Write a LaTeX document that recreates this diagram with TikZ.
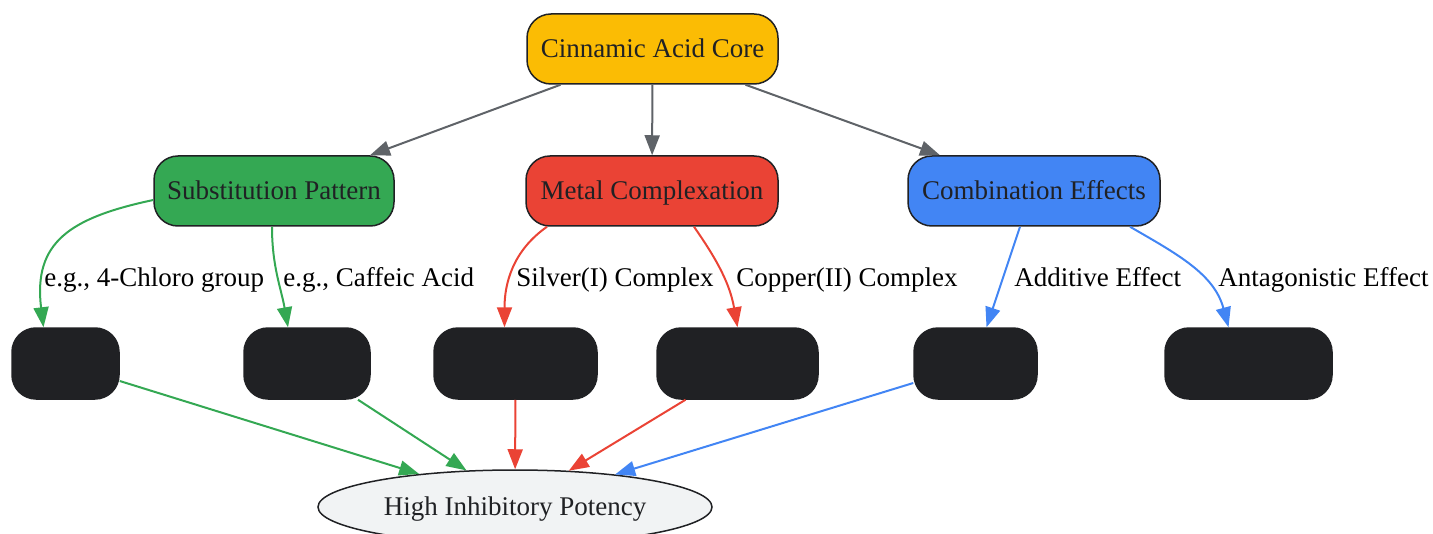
\documentclass[tikz,border=0pt]{standalone}
\usepackage{fontspec}
\setmainfont{Liberation Serif}
\usetikzlibrary{arrows.meta,shapes.geometric}
\definecolor{ink}{HTML}{202124}
\definecolor{coreyellow}{HTML}{FBBC04}
\definecolor{subgreen}{HTML}{34A853}
\definecolor{metalred}{HTML}{EA4335}
\definecolor{combblue}{HTML}{4285F4}
\definecolor{linkgray}{HTML}{5F6368}
\definecolor{potencygray}{HTML}{F1F3F4}

\begin{document}
\begin{tikzpicture}[%
  x=0.5pt,y=-0.5pt,
  every node/.style={font=\fontsize{13.5}{16}\selectfont,
    text height=10.5pt,text depth=2.4pt},
  box/.style={draw=ink,line width=0.75pt,rounded corners=12pt,
    minimum height=35pt,inner sep=0pt,text=ink},
  leaf/.style={box,fill=ink,minimum height=35.5pt},
  link/.style={line width=1pt,-{Triangle[length=10pt,width=7.5pt]}},
  elabel/.style={anchor=west,inner sep=0pt,text=black}]
\useasboundingbox (0,0) rectangle (1433,534);

\node[box,fill=coreyellow,minimum width=125.5pt] (core) at (652.5,49) {Cinnamic Acid Core};
\node[box,fill=subgreen,minimum width=120pt] (sub) at (274,191) {Substitution Pattern};
\node[box,fill=metalred,minimum width=126pt] (metal) at (652,191) {Metal Complexation};
\node[box,fill=combblue,minimum width=126pt] (comb) at (1034,191) {Combination Effects};

\node[leaf,minimum width=53.5pt] (chloro) at (65.5,363.5) {};
\node[leaf,minimum width=63pt] (caffeic) at (307,363.5) {};
\node[leaf,minimum width=81.5pt] (silver) at (515.5,363.5) {};
\node[leaf,minimum width=80.5pt] (copper) at (737.5,363.5) {};
\node[leaf,minimum width=61.5pt] (additive) at (975.5,363.5) {};
\node[leaf,minimum width=83.5pt] (antag) at (1248.5,363.5) {};

\node[ellipse,draw=ink,fill=potencygray,line width=0.75pt,inner sep=0pt,
  minimum width=197pt,minimum height=37pt,text=ink] (potency) at (515,507) {High Inhibitory Potency};

\node[elabel] (lchloro) at (44,278.5) {e.g., 4-Chloro group};
\node[elabel] (lcaffeic) at (283,278.5) {e.g., Caffeic Acid};
\node[elabel] (lsilver) at (516,278.5) {Silver(I) Complex};
\node[elabel] (lcopper) at (736,278.5) {Copper(II) Complex};
\node[elabel] (ladditive) at (1014,278.5) {Additive Effect};
\node[elabel] (lantag) at (1218,278.5) {Antagonistic Effect};

\draw[link,linkgray] ([xshift=-46pt]core.south) -- ([xshift=48pt]sub.north);
\draw[link,linkgray] (core) -- (metal);
\draw[link,linkgray] ([xshift=46.5pt]core.south) -- ([xshift=-47pt]comb.north);

\draw[link,subgreen] ([yshift=-4.5pt]sub.west) to[out=192,in=97,looseness=1.3] ([xshift=-11pt]chloro.north);
\draw[link,subgreen] ([xshift=-1pt]sub.south) to[out=-90,in=100] ([xshift=-9.5pt]caffeic.north);
\draw[link,metalred] ([xshift=-52.5pt]metal.south) to[out=215,in=90] ([xshift=-5.5pt]silver.north);
\draw[link,metalred] ([xshift=21pt]metal.south) to[out=-55,in=100] (copper.north);
\draw[link,combblue] ([xshift=-7pt]comb.south) -- ([xshift=5.5pt]additive.north);
\draw[link,combblue] ([xshift=48pt]comb.south) to[out=-30,in=105] ([xshift=-10pt]antag.north);

\draw[link,subgreen] ([yshift=-8.75pt]chloro.east) -- (potency.161.7);
\draw[link,subgreen] ([xshift=25.5pt]caffeic.south) -- (potency.143.1);
\draw[link,metalred] (silver) -- (potency);
\draw[link,metalred] ([xshift=-26pt]copper.south) -- (potency.34.2);
\draw[link,combblue] ([yshift=-9.75pt]additive.west) -- (potency.18.1);
\end{tikzpicture}
\end{document}
